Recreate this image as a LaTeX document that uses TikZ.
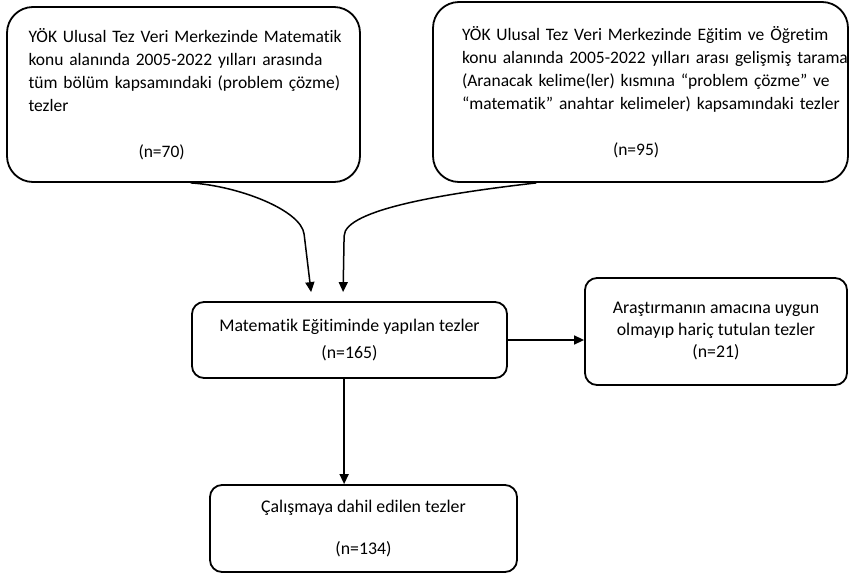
\documentclass[tikz,border=0pt]{standalone}
\usepackage{fontspec}
\setmainfont{Carlito}[Ligatures=NoCommon]
\usetikzlibrary{arrows.meta, calc}

\begin{document}
\begin{tikzpicture}[
    x=1pt, y=-1pt,
    srcbox/.style={
      draw, line width=1.8pt, rounded corners=26pt,
      inner sep=0pt, align=left,
      font=\fontsize{17.5}{23}\selectfont
    },
    stepbox/.style={
      draw, line width=1.8pt, rounded corners=12pt,
      inner sep=0pt, align=center,
      font=\fontsize{17.8}{22}\selectfont
    },
    flow/.style={-{Triangle[length=10pt,width=9pt]}, line width=1.5pt}
  ]
    \useasboundingbox (0,0) rectangle (849,576);

    % Source boxes
    \node[srcbox, minimum width=353, minimum height=175, text width=310pt]
      (yokmat) at (183.5,94.5) {%
      \makebox[310pt][s]{YÖK Ulusal Tez Veri Merkezinde Matematik}\\
      \makebox[310pt][s]{konu alanında 2005-2022 yılları arasında}\\
      \makebox[310pt][s]{tüm bölüm kapsamındaki (problem çözme)}\\
      tezler\\[23pt]
      \hspace*{110pt}(n=70)};
    \node[srcbox, minimum width=415, minimum height=180, text width=393pt]
      (yokedu) at (640.5,92) {%
      \hspace*{18pt}\makebox[375pt][s]{YÖK Ulusal Tez Veri Merkezinde Eğitim ve Öğretim}\\
      \hspace*{18pt}\makebox[375pt][s]{konu alanında 2005-2022 yılları arası gelişmiş tarama}\\
      \hspace*{18pt}\makebox[375pt][s]{(Aranacak kelime(ler) kısmına “problem çözme” ve}\\
      \hspace*{18pt}\makebox[375pt][s]{“matematik” anahtar kelimeler) kapsamındaki tezler}\\[23pt]
      \hspace*{169pt}(n=95)};

    % Flow steps
    \node[stepbox, minimum width=315, minimum height=76] (mid) at (349.5,340)
      {Matematik Eğitiminde yapılan tezler\\[5pt](n=165)};
    \node[stepbox, minimum width=262, minimum height=107] (excl) at (716,331.5)
      {Araştırmanın amacına uygun\\olmayıp hariç tutulan tezler\\(n=21)};
    \node[stepbox, minimum width=307, minimum height=87] (incl) at (363.5,528.5)
      {Çalışmaya dahil edilen tezler\\[20pt](n=134)};

    % Connectors
    \coordinate (lt) at ($(mid.north west)+(120,-9)$);
    \coordinate (rt) at ($(mid.north west)+(152,-9)$);
    \coordinate (dn) at ($(mid.south west)!0.483!(mid.south east)$);
    \draw[flow] ($(yokmat.south west)!0.52!(yokmat.south east)$)
      .. controls +(48,3) and +(-3,-24) .. ($(lt)+(-7,-58)$) -- (lt);
    \draw[flow] ($(yokedu.south west)!0.25!(yokedu.south east)$)
      .. controls +(-87,10) and +(0,-27) .. ($(rt)+(1,-56)$) -- (rt);
    \draw[flow] (mid.east) -- (mid.east -| excl.west);
    \draw[flow] (dn) -- (dn |- incl.north);
  \end{tikzpicture}
\end{document}
